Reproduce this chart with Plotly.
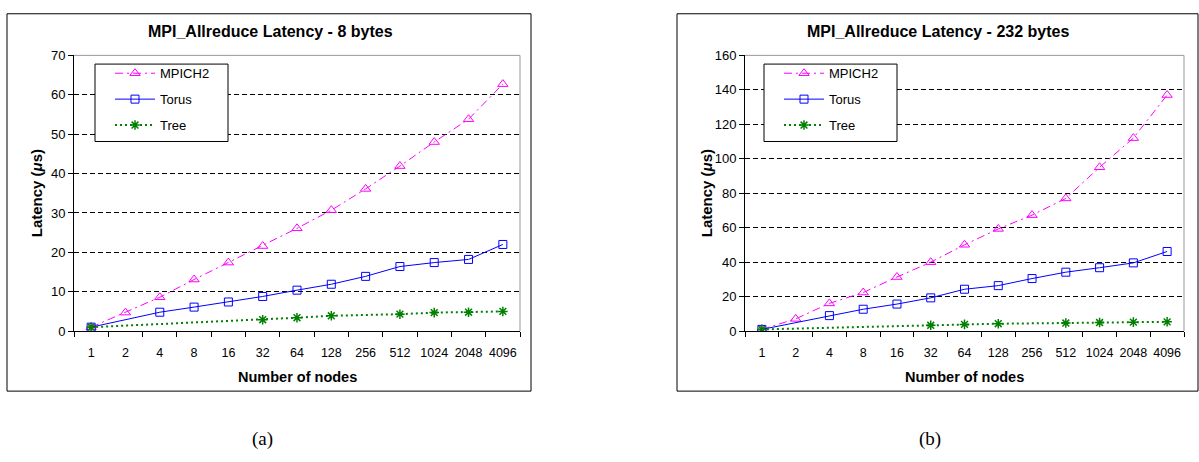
import plotly.graph_objects as go

W, H = 1199, 462

categories = ["1", "2", "4", "8", "16", "32", "64", "128", "256", "512", "1024", "2048", "4096"]

mpich2_8 = [1.0, 4.7, 8.6, 13.1, 17.4, 21.6, 26.1, 30.7, 36.1, 41.9, 48.0, 53.8, 62.7]
torus_8 = [1.0, None, 4.8, 6.1, 7.4, 8.8, 10.4, 11.9, 13.9, 16.4, 17.4, 18.2, 22.0]
tree_8 = [1.0, None, None, None, None, 2.9, 3.4, 3.9, None, 4.3, 4.7, 4.8, 5.0]

mpich2_232 = [1.0, 7.1, 16.1, 22.4, 31.4, 40.0, 50.1, 59.3, 67.3, 77.0, 95.1, 112.0, 137.0]
torus_232 = [1.0, None, 9.0, 12.7, 15.7, 19.3, 24.3, 26.4, 30.5, 34.2, 36.8, 39.6, 46.2]
tree_232 = [1.0, None, None, None, None, 3.4, 3.9, 4.3, None, 4.7, 5.0, 5.2, 5.4]

titles = ["MPI_Allreduce Latency - 8 bytes", "MPI_Allreduce Latency - 232 bytes"]
captions = ["(a)", "(b)"]
series_names = ["MPICH2", "Torus", "Tree"]


def px(x):
    return x / W


def py(y):
    return 1 - y / H


FONT = "Liberation Sans, Arial, sans-serif"
MAG = "#FF00FF"
BLUE = "#0000FF"
GREEN = "#008000"

fig = go.Figure()

panels = [
    dict(data=(mpich2_8, torus_8, tree_8), xa="x", ya="y", legend="legend",
         plot=(74, 520, 50, 335), box=(7, 531, 7, 397), leg=(95, 228, 59, 139),
         yrange=[0, 70], dtick=10, cap=262, tcx=270),
    dict(data=(mpich2_232, torus_232, tree_232), xa="x2", ya="y2", legend="legend2",
         plot=(745, 1184, 50, 335), box=(677, 1198, 7, 397), leg=(764, 897, 59, 139),
         yrange=[0, 160], dtick=20, cap=930, tcx=938),
]

shapes = []
annotations = []

for i, p in enumerate(panels):
    m, t, tr = p["data"]
    fig.add_trace(go.Scatter(
        x=categories, y=m, name=series_names[0], xaxis=p["xa"], yaxis=p["ya"], legend=p["legend"],
        mode="lines+markers", connectgaps=True, legendgroup="a%d" % i,
        line=dict(color=MAG, width=1, dash="8px,4px,2px,4px"),
        marker=dict(symbol="triangle-up-open", size=9, color=MAG, line=dict(width=1, color=MAG)),
    ))
    fig.add_trace(go.Scatter(
        x=categories, y=t, name=series_names[1], xaxis=p["xa"], yaxis=p["ya"], legend=p["legend"],
        mode="lines+markers", connectgaps=True, legendgroup="b%d" % i,
        line=dict(color=BLUE, width=1),
        marker=dict(symbol="square-open", size=8, color=BLUE, line=dict(width=1, color=BLUE)),
    ))
    fig.add_trace(go.Scatter(
        x=categories, y=tr, name=series_names[2], xaxis=p["xa"], yaxis=p["ya"], legend=p["legend"],
        mode="lines+markers", connectgaps=True, legendgroup="c%d" % i,
        line=dict(color=GREEN, width=2, dash="2px,3px"),
        marker=dict(symbol="asterisk-open", size=8, color=GREEN, line=dict(width=1.5, color=GREEN)),
    ))

    x0, x1, y0, y1 = p["plot"]
    bx0, bx1, by0, by1 = p["box"]
    shapes.append(dict(type="rect", xref="paper", yref="paper",
                       x0=px(bx0), x1=px(bx1), y0=py(by1), y1=py(by0),
                       line=dict(color="black", width=1), layer="below"))
    shapes.append(dict(type="line", xref="paper", yref="paper",
                       x0=px(x0), x1=px(x1), y0=py(y0), y1=py(y0),
                       line=dict(color="#999999", width=1), layer="below"))
    shapes.append(dict(type="line", xref="paper", yref="paper",
                       x0=px(x1), x1=px(x1), y0=py(y0), y1=py(y1),
                       line=dict(color="#999999", width=1), layer="below"))
    lx0, lx1, ly0, ly1 = p["leg"]
    shapes.append(dict(type="rect", xref="paper", yref="paper",
                       x0=px(lx0), x1=px(lx1), y0=py(ly1), y1=py(ly0),
                       line=dict(color="black", width=1), fillcolor="white", layer="above"))

    cx = (x0 + x1) / 2
    annotations.append(dict(text="<b>%s</b>" % titles[i], x=px(p["tcx"]),
                            y=py(25), xref="paper", yref="paper", showarrow=False,
                            font=dict(family=FONT, size=16, color="black"), xanchor="center", yanchor="middle"))
    annotations.append(dict(text="<b>Number of nodes</b>", x=px(cx), y=py(382), xref="paper", yref="paper",
                            showarrow=False, font=dict(family=FONT, size=14.5, color="black"),
                            xanchor="center", yanchor="middle"))
    annotations.append(dict(text="<b>Latency (<i>μ</i>s)</b>", x=px(bx0 + 29), y=py((y0 + y1) / 2), xref="paper",
                            yref="paper", showarrow=False, textangle=-90,
                            font=dict(family=FONT, size=15, color="black"),
                            xanchor="center", yanchor="middle"))
    annotations.append(dict(text=captions[i], x=px(p["cap"]), y=py(446), xref="paper", yref="paper",
                            showarrow=False, font=dict(family="Liberation Serif, serif", size=19, color="black"),
                            xanchor="center", yanchor="middle"))

    xaxis = dict(domain=[px(x0), px(x1)], type="category", range=[-0.5, 12.5],
                 showline=True, linecolor="black", linewidth=1, ticks="outside", tickson="boundaries",
                 ticklen=5, tickcolor="black", showgrid=False, zeroline=False, tickangle=0,
                 ticklabelstandoff=10,
                 tickfont=dict(family=FONT, size=12.5, color="black"), fixedrange=True,
                 anchor=p["ya"])
    yaxis = dict(domain=[py(y1), py(y0)], range=p["yrange"], dtick=p["dtick"],
                 showline=True, linecolor="black", linewidth=1, ticks="outside", ticklen=5,
                 tickcolor="black", showgrid=True, gridcolor="black", gridwidth=1,
                 griddash="5px,3px", zeroline=False,
                 tickfont=dict(family=FONT, size=13, color="black"), fixedrange=True,
                 anchor=p["xa"])
    if i == 0:
        fig.update_layout(xaxis=xaxis, yaxis=yaxis)
    else:
        fig.update_layout(xaxis2=xaxis, yaxis2=yaxis)

leg_common = dict(bgcolor="rgba(0,0,0,0)", borderwidth=0, font=dict(family=FONT, size=13, color="black"),
                  xanchor="left", yanchor="top", tracegroupgap=6, itemwidth=40)
fig.update_layout(
    width=W, height=H, autosize=False,
    margin=dict(l=0, r=0, t=0, b=0),
    paper_bgcolor="white", plot_bgcolor="white",
    shapes=shapes, annotations=annotations,
    legend=dict(x=px(110), y=py(53), **leg_common),
    legend2=dict(x=px(779), y=py(53), **leg_common),
)

fig.write_html("out.html")
